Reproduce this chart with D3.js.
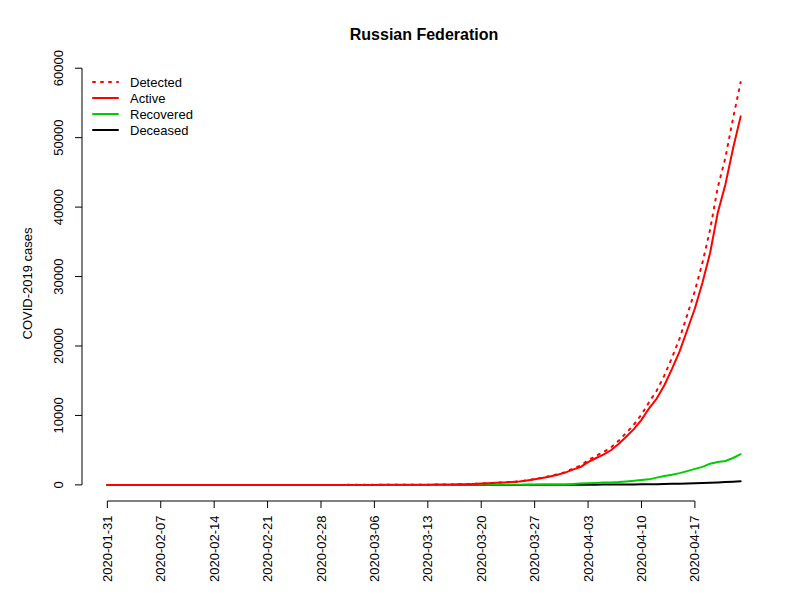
<!DOCTYPE html>
<html>
<head>
<meta charset="utf-8">
<script src="https://cdn.jsdelivr.net/npm/d3@7"></script>
<style>
  body { margin: 0; background: #fff; }
  svg { display: block; }
  text { font-family: "Liberation Sans", Arial, Helvetica, sans-serif; fill: #000; }
</style>
</head>
<body>
<svg id="chart" width="800" height="600"></svg>
<script>
const dates = [
  "2020-01-31",
  "2020-02-01","2020-02-02","2020-02-03","2020-02-04","2020-02-05","2020-02-06","2020-02-07","2020-02-08","2020-02-09","2020-02-10",
  "2020-02-11","2020-02-12","2020-02-13","2020-02-14","2020-02-15","2020-02-16","2020-02-17","2020-02-18","2020-02-19","2020-02-20",
  "2020-02-21","2020-02-22","2020-02-23","2020-02-24","2020-02-25","2020-02-26","2020-02-27","2020-02-28","2020-02-29",
  "2020-03-01","2020-03-02","2020-03-03","2020-03-04","2020-03-05","2020-03-06","2020-03-07","2020-03-08","2020-03-09","2020-03-10",
  "2020-03-11","2020-03-12","2020-03-13","2020-03-14","2020-03-15","2020-03-16","2020-03-17","2020-03-18","2020-03-19","2020-03-20",
  "2020-03-21","2020-03-22","2020-03-23","2020-03-24","2020-03-25","2020-03-26","2020-03-27","2020-03-28","2020-03-29","2020-03-30",
  "2020-03-31","2020-04-01","2020-04-02","2020-04-03","2020-04-04","2020-04-05","2020-04-06","2020-04-07","2020-04-08","2020-04-09",
  "2020-04-10","2020-04-11","2020-04-12","2020-04-13","2020-04-14","2020-04-15","2020-04-16","2020-04-17","2020-04-18","2020-04-19",
  "2020-04-20","2020-04-21","2020-04-22","2020-04-23"
];

const detected = [
  0,
  2,2,2,2,2,2,2,2,2,2,
  2,2,2,2,2,2,2,2,2,2,
  2,2,2,2,2,2,2,2,2,
  2,2,3,3,3,4,13,13,17,17,
  20,20,28,45,59,63,90,114,147,199,
  253,306,367,438,495,658,840,1036,1264,1534,
  1836,2337,2777,3548,4149,4731,5389,6343,7497,8672,
  10131,11917,13584,15770,18328,21102,24490,27938,32008,36793,
  42853,47121,52763,57999
];

const active = [
  0,
  2,2,2,2,2,2,2,2,2,2,
  2,2,0,0,0,0,0,0,0,0,
  0,0,0,0,0,0,0,0,0,
  0,0,1,1,1,2,11,11,15,15,
  18,18,26,43,57,61,85,109,139,189,
  243,293,350,420,472,626,799,983,1211,1462,
  1761,2199,2563,3283,3834,4355,4989,5890,6945,8029,
  9357,11028,12433,14349,16710,19238,22306,25402,29145,33423,
  39201,43270,48434,53066
];

const recovered = [
  0,
  0,0,0,0,0,0,0,0,0,0,
  0,0,2,2,2,2,2,2,2,2,
  2,2,2,2,2,2,2,2,2,
  2,2,2,2,2,2,2,2,2,2,
  2,2,2,2,2,2,5,5,8,9,
  9,12,16,17,22,29,38,49,49,64,
  66,121,190,235,281,333,355,406,494,580,
  698,795,1045,1291,1470,1694,1986,2304,2590,3057,
  3291,3446,3873,4420
];

const deceased = [
  0,
  0,0,0,0,0,0,0,0,0,0,
  0,0,0,0,0,0,0,0,0,0,
  0,0,0,0,0,0,0,0,0,
  0,0,0,0,0,0,0,0,0,0,
  0,0,0,0,0,0,0,0,0,1,
  1,1,1,1,1,3,3,4,4,8,
  9,17,24,30,34,43,45,47,58,63,
  76,94,106,130,148,170,198,232,273,313,
  361,405,456,513
];

const xTickLabels = ["2020-01-31","2020-02-07","2020-02-14","2020-02-21","2020-02-28","2020-03-06",
  "2020-03-13","2020-03-20","2020-03-27","2020-04-03","2020-04-10","2020-04-17"];
const yTicks = [0, 10000, 20000, 30000, 40000, 50000, 60000];

const seriesNames = ["Detected", "Active", "Recovered", "Deceased"];
const seriesColors = ["#ff0000", "#ff0000", "#00cd00", "#000000"];
const seriesDash = ["2,6", null, null, null];

const parse = d3.utcParse("%Y-%m-%d");
const T = dates.map(parse);

const svg = d3.select("#chart");
svg.append("rect").attr("width", 800).attr("height", 600).attr("fill", "#fff");

// plot region (R-style 4% extension)
const L = 82, R = 766, TOP = 66, BOT = 501;
const t0 = T[0], t1 = T[T.length - 1];
const span = t1 - t0;
const x = d3.scaleUtc()
  .domain([new Date(+t0 - 0.04 * span), new Date(+t1 + 0.04 * span)])
  .range([L, R]);
const ymax = d3.max(detected), ymin = 0;
const yspan = ymax - ymin;
const y = d3.scaleLinear()
  .domain([ymin - 0.04 * yspan, ymax + 0.04 * yspan])
  .range([BOT, TOP]);

// Title
svg.append("text").attr("x", (L + R) / 2).attr("y", 39.5)
  .attr("text-anchor", "middle").attr("font-weight", "bold").attr("font-size", "16px")
  .text("Russian Federation");

// Y axis
const yAxisG = svg.append("g");
yAxisG.append("line").attr("x1", L).attr("x2", L)
  .attr("y1", y(yTicks[0])).attr("y2", y(yTicks[yTicks.length - 1]))
  .attr("stroke", "#000").attr("stroke-width", 1);
yTicks.forEach(v => {
  yAxisG.append("line").attr("x1", L).attr("x2", L - 7)
    .attr("y1", y(v)).attr("y2", y(v)).attr("stroke", "#000");
  yAxisG.append("text")
    .attr("transform", `translate(${L - 19},${y(v)}) rotate(-90)`)
    .attr("text-anchor", "middle").attr("font-size", "13px")
    .text(v);
});
svg.append("text")
  .attr("transform", `translate(32,${(TOP + BOT) / 2}) rotate(-90)`)
  .attr("text-anchor", "middle").attr("font-size", "13px")
  .text("COVID-2019 cases");

// X axis
const xt = xTickLabels.map(parse);
const xAxisG = svg.append("g");
xAxisG.append("line").attr("x1", x(xt[0])).attr("x2", x(xt[xt.length - 1]))
  .attr("y1", BOT).attr("y2", BOT).attr("stroke", "#000");
xt.forEach((d, i) => {
  xAxisG.append("line").attr("x1", x(d)).attr("x2", x(d))
    .attr("y1", BOT).attr("y2", BOT + 7).attr("stroke", "#000");
  xAxisG.append("text")
    .attr("transform", `translate(${x(d) + 4.6},${BOT + 14.5}) rotate(-90)`)
    .attr("text-anchor", "end").attr("font-size", "13px")
    .text(xTickLabels[i]);
});

// Lines
const seriesData = [detected, active, recovered, deceased];
const line = d3.line().x((d, i) => x(T[i])).y(d => y(d));
[3, 2, 1, 0].forEach(k => {
  const p = svg.append("path").datum(seriesData[k])
    .attr("d", line).attr("fill", "none")
    .attr("stroke", seriesColors[k]).attr("stroke-width", 2)
    .attr("stroke-linecap", "round").attr("stroke-linejoin", "round");
  if (seriesDash[k]) p.attr("stroke-dasharray", seriesDash[k]);
});

// Legend
const legY0 = 82, legDy = 16;
seriesNames.forEach((n, k) => {
  const yy = legY0 + k * legDy;
  const l = svg.append("line").attr("x1", 93).attr("x2", 118)
    .attr("y1", yy).attr("y2", yy)
    .attr("stroke", seriesColors[k]).attr("stroke-width", 2)
    .attr("stroke-linecap", "round");
  if (seriesDash[k]) l.attr("stroke-dasharray", seriesDash[k]);
  svg.append("text").attr("x", 130).attr("y", yy + 4.6)
    .attr("font-size", "13px").text(n);
});
</script>
</body>
</html>
